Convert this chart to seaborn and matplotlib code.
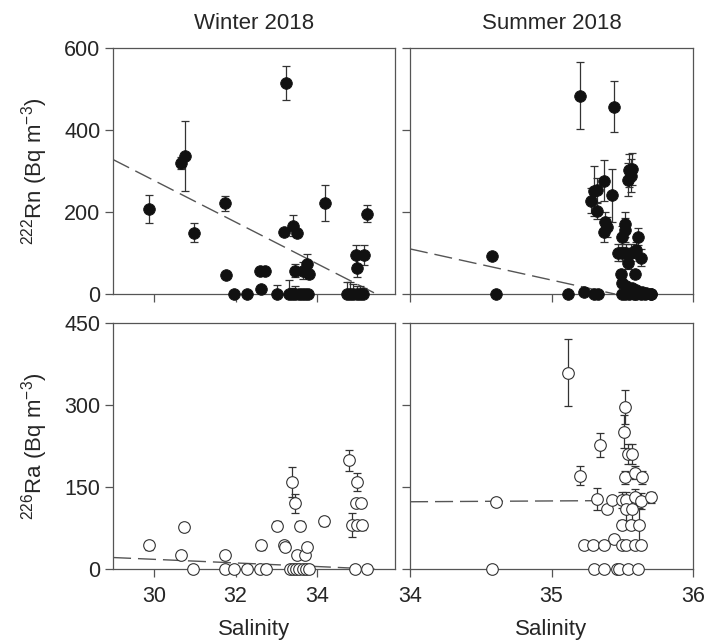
import numpy as np
import pandas as pd
import matplotlib
matplotlib.use("Agg")
import matplotlib.pyplot as plt
import seaborn as sns

sns.set_style("ticks")
plt.rcParams['font.family'] = ['Liberation Sans', 'DejaVu Sans']
plt.rcParams['mathtext.default'] = 'regular'

# ---------------- data ----------------
# Winter 2018, 222Rn
rn_w_sal = [29.88, 30.66, 30.76, 30.97, 31.75, 31.76, 31.97, 32.27, 32.61, 32.60, 32.73,
            33.02, 33.24, 33.18, 33.41, 33.51, 33.45, 33.66, 33.74, 33.80,
            33.30, 33.38, 33.46, 33.54, 33.62, 33.70, 33.78, 34.19, 34.96, 34.94, 35.13,
            35.21, 34.72, 34.80, 34.88, 34.96, 35.04, 35.12]
rn_w_val = [207, 320, 337, 150, 221, 46, 0, 0, 13, 57, 57,
            0, 515, 152, 167, 148, 57, 57, 73, 48,
            0, 0, 0, 0, 0, 0, 0, 222, 64, 95, 95,
            196, 0, 0, 0, 0, 0, 0]
rn_w_err = [35, 15, 86, 24, 19, 0, 0, 0, 0, 8, 8,
            22, 42, 0, 25, 10, 15, 20, 25, 10,
            35, 15, 20, 10, 5, 5, 5, 43, 22, 25, 25,
            20, 30, 30, 25, 20, 20, 15]

# Summer 2018, 222Rn
rn_s_sal = [34.58, 34.61, 35.12, 35.23, 35.30, 35.33, 35.20, 35.44, 35.28, 35.30, 35.32,
            35.32, 35.37, 35.43, 35.38, 35.39, 35.37, 35.55, 35.56, 35.54, 35.57,
            35.52, 35.52, 35.50, 35.61, 35.47, 35.50, 35.53, 35.56, 35.60, 35.63,
            35.54, 35.49, 35.59, 35.50, 35.53, 35.57, 35.60, 35.64, 35.67, 35.70,
            35.50, 35.52, 35.55, 35.58, 35.60, 35.63, 35.66, 35.70]
rn_s_val = [93, 0, 0, 4, 0, 0, 484, 457, 228, 251, 254,
            202, 276, 241, 175, 164, 152, 302, 289, 279, 305,
            170, 156, 140, 140, 101, 101, 101, 101, 107, 89,
            75, 48, 48, 28, 20, 14, 10, 6, 3, 1,
            0, 0, 0, 0, 0, 0, 0, 0]
rn_s_err = [0, 0, 0, 0, 0, 0, 82, 63, 30, 60, 30,
            20, 50, 65, 25, 25, 25, 40, 40, 40, 40,
            30, 30, 25, 20, 20, 20, 20, 20, 20, 20,
            15, 10, 10, 8, 8, 8, 8, 5, 5, 5,
            5, 5, 5, 5, 5, 5, 5, 5]

# Winter 2018, 226Ra
ra_w_sal = [29.88, 30.74, 30.66, 30.96, 31.75, 31.75, 31.97, 32.27, 32.60, 32.74,
            32.61, 33.02, 33.19, 33.22, 33.39, 33.46, 33.57, 33.51, 33.70, 33.74,
            33.33, 33.40, 33.47, 33.55, 33.65, 33.72, 33.80,
            34.17, 34.78, 34.98, 34.95, 35.07, 34.86, 34.96, 35.10, 34.92, 35.21]
ra_w_val = [43, 77, 25, 0, 25, 0, 0, 0, 0, 0,
            43, 79, 43, 40, 159, 120, 79, 26, 25, 40,
            0, 0, 0, 0, 0, 0, 0,
            87, 199, 159, 120, 120, 80, 80, 80, 0, 0]
ra_w_err = [8, 8, 0, 0, 0, 0, 0, 0, 0, 0,
            8, 8, 6, 6, 28, 18, 8, 0, 0, 0,
            0, 0, 0, 0, 0, 0, 0,
            8, 19, 16, 0, 0, 22, 8, 8, 0, 0]

# Summer 2018, 226Ra
ra_s_sal = [34.61, 34.58, 35.12, 35.20, 35.34, 35.32, 35.39, 35.43, 35.52, 35.51,
            35.54, 35.57, 35.52, 35.59, 35.64, 35.50, 35.53, 35.59, 35.63, 35.70,
            35.50, 35.56, 35.62, 35.44, 35.23, 35.29, 35.37, 35.50, 35.53, 35.59,
            35.63, 35.53, 35.57, 35.30, 35.37, 35.46, 35.48, 35.54, 35.61]
ra_s_val = [122, 0, 359, 171, 226, 128, 109, 126, 297, 251,
            210, 210, 168, 176, 168, 126, 126, 131, 124, 131,
            81, 81, 81, 55, 43, 43, 43, 43, 43, 43,
            43, 109, 109, 0, 0, 0, 0, 0, 0]
ra_s_err = [4, 0, 61, 17, 22, 20, 0, 0, 31, 30,
            18, 18, 12, 12, 12, 15, 15, 15, 15, 10,
            8, 8, 30, 8, 6, 6, 6, 6, 6, 6,
            6, 25, 25, 0, 0, 0, 0, 0, 0]

# linear fits shown as dashed lines (intercept at x0, slope, x range)
fit_rn_w = dict(x0=29.0, b=328.0, m=-50.9, x1=35.45)
fit_rn_s = dict(x0=34.0, b=110.0, m=-76.0, x1=35.45)
fit_ra_w = dict(x0=29.0, b=21.0, m=-3.3, x1=35.4)
fit_ra_s = dict(x0=34.0, b=123.0, m=1.5, x1=35.6)

titles = ["Winter 2018", "Summer 2018"]
ylabels = [r"$^{222}$Rn (Bq m$^{-3}$)", r"$^{226}$Ra (Bq m$^{-3}$)"]
xlabel = "Salinity"

# ---------------- figure ----------------
fig = plt.figure(figsize=(7.06, 6.44), dpi=100)
W, H = 706, 644


def rect(x0, x1, y0, y1):
    return [x0 / W, 1 - y1 / H, (x1 - x0) / W, (y1 - y0) / H]


ax_tl = fig.add_axes(rect(113, 395, 48, 294))
ax_tr = fig.add_axes(rect(410, 693, 48, 294))
ax_bl = fig.add_axes(rect(113, 395, 323, 569))
ax_br = fig.add_axes(rect(410, 693, 323, 569))

spine_c = "#555555"
FS = 15.5
panels = [
    (ax_tl, rn_w_sal, rn_w_val, rn_w_err, fit_rn_w, True),
    (ax_tr, rn_s_sal, rn_s_val, rn_s_err, fit_rn_s, True),
    (ax_bl, ra_w_sal, ra_w_val, ra_w_err, fit_ra_w, False),
    (ax_br, ra_s_sal, ra_s_val, ra_s_err, fit_ra_s, False),
]

for ax, xs, ys, es, fit, filled in panels:
    df = pd.DataFrame({"sal": xs, "val": ys, "err": es})
    # error bars
    ax.errorbar(df["sal"], df["val"], yerr=df["err"], fmt="none",
                ecolor="#333333", elinewidth=0.9, capsize=3, capthick=0.9, zorder=2)
    # fit line
    fx = np.array([fit["x0"], fit["x1"]])
    fdf = pd.DataFrame({"x": fx, "y": fit["b"] + fit["m"] * (fx - fit["x0"])})
    sns.lineplot(data=fdf, x="x", y="y", ax=ax, color="#555555", lw=1.0,
                 dashes=False, zorder=1)
    ax.lines[-1].set_dashes((13, 5))
    # markers
    if filled:
        sns.scatterplot(data=df, x="sal", y="val", ax=ax, s=70, color="#111111",
                        edgecolor="#111111", linewidth=0.6, zorder=3, clip_on=False)
    else:
        sns.scatterplot(data=df, x="sal", y="val", ax=ax, s=70, color="white",
                        edgecolor="#333333", linewidth=0.8, zorder=3, clip_on=False)
    for sp in ax.spines.values():
        sp.set_visible(True)
        sp.set_color(spine_c)
        sp.set_linewidth(0.9)
    ax.tick_params(direction="out", length=6, width=0.9, color=spine_c,
                   labelsize=FS, top=False, right=False)
    ax.tick_params(axis="y", pad=3)
    ax.tick_params(axis="x", pad=6)
    ax.set_xlabel("")
    ax.set_ylabel("")

for ax in (ax_tl, ax_bl):
    ax.set_xlim(29, 35.9)
    ax.set_xticks([30, 32, 34])
for ax in (ax_tr, ax_br):
    ax.set_xlim(34, 36)
    ax.set_xticks([34, 35, 36])
for ax in (ax_tl, ax_tr):
    ax.set_ylim(0, 600)
    ax.set_yticks([0, 200, 400, 600])
    ax.tick_params(labelbottom=False)
for ax in (ax_bl, ax_br):
    ax.set_ylim(0, 450)
    ax.set_yticks([0, 150, 300, 450])
    ax.set_xlabel(xlabel, fontsize=FS + 0.5, labelpad=9)
for ax in (ax_tr, ax_br):
    ax.tick_params(labelleft=False)

ax_tl.set_title(titles[0], fontsize=FS + 0.5, pad=14)
ax_tr.set_title(titles[1], fontsize=FS + 0.5, pad=14)
ax_tl.set_ylabel(ylabels[0], fontsize=FS + 0.5, labelpad=10)
ax_bl.set_ylabel(ylabels[1], fontsize=FS + 0.5, labelpad=10)

fig.savefig("out.png", dpi=100)
